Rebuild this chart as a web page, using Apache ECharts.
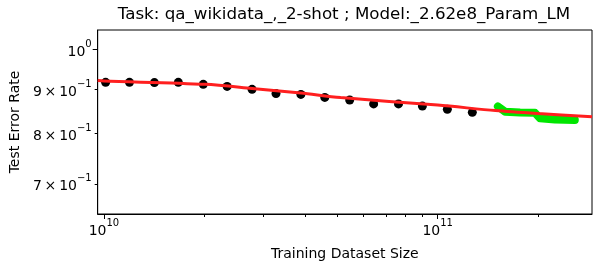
<!DOCTYPE html>
<html lang="en" style="height: 100%">
<head>
  <meta charset="utf-8">
</head>
<body style="height: 100%; margin: 0; background: #fff">
<div id="container" style="width: 602px; height: 273px"></div>

<script type="text/javascript" src="https://cdn.jsdelivr.net/npm/echarts@6/dist/echarts.min.js"></script>
<script type="text/javascript">
  // observed points
  var trainSizes = [1.012e10, 1.193e10, 1.417e10, 1.671e10, 1.985e10, 2.340e10, 2.779e10, 3.278e10,
                    3.892e10, 4.590e10, 5.450e10, 6.430e10, 7.632e10, 9.000e10, 1.069e11, 1.270e11];
  var errorRates = [0.9158, 0.9158, 0.9153, 0.9158, 0.9110, 0.9060, 0.8990, 0.8890,
                    0.8870, 0.8800, 0.8740, 0.8650, 0.8650, 0.8600, 0.8530, 0.8460];
  // fitted curve
  var fitSizes = [9.58e9, 1.0e10, 2.01e10, 2.78e10, 3.89e10, 5.12e10, 1.0e11, 1.49e11, 2.0e11, 2.9e11];
  var fitRates = [0.9201, 0.9189, 0.9112, 0.9013, 0.8902, 0.8796, 0.8623, 0.8498, 0.8431, 0.8360];
  // extrapolated segment
  var extraSizes = [1.515e11, 1.593e11, 1.766e11, 1.957e11, 2.026e11, 2.245e11, 2.576e11];
  var extraRates = [0.8594, 0.8472, 0.8456, 0.8448, 0.8325, 0.8300, 0.8291];

  var xTicks = [1e10, 1e11];
  var xTickText = ['10^10', '10^11'];
  var xMinor = [2e10, 3e10, 4e10, 5e10, 6e10, 7e10, 8e10, 9e10, 2e11];
  var yTicks = [0.7, 0.8, 0.9, 1.0];
  var yTickText = ['7\u2009×\u200910^−1', '8\u2009×\u200910^−1', '9\u2009×\u200910^−1', '10^0'];
  var yMajor = [1.0];

  var lg = Math.log10;
  function pairs(xs, ys) {
    return xs.map(function (x, i) { return [lg(x), lg(ys[i])]; });
  }
  function supLabel(list, ticks) {
    return function (v) {
      for (var i = 0; i < ticks.length; i++) {
        if (Math.abs(lg(ticks[i]) - v) < 1e-6) {
          var p = list[i].split('^');
          return '{b|' + p[0] + '}{s|' + p[1] + '}';
        }
      }
      return '';
    };
  }
  var rich = {
    b: { fontSize: 14, fontFamily: 'DejaVu Sans', color: '#000', verticalAlign: 'bottom', lineHeight: 20 },
    s: { fontSize: 10, fontFamily: 'DejaVu Sans', color: '#000', verticalAlign: 'top', lineHeight: 20 }
  };

  var xMin = lg(9.58e9), xMax = lg(2.9e11);
  var yMin = lg(0.6463), yMax = lg(1.052);

  var dom = document.getElementById('container');
  var myChart = echarts.init(dom, null, { renderer: 'canvas' });

  var option = {
    animation: false,
    title: {
      text: 'Task: qa_wikidata_,_2-shot ; Model:_2.62e8_Param_LM',
      left: 344,
      top: 6,
      padding: 0,
      textAlign: 'center',
      textStyle: { fontFamily: 'DejaVu Sans', fontSize: 16.7, fontWeight: 'normal', color: '#000' }
    },
    grid: {
      left: 96, right: 10, top: 30, bottom: 59,
      show: true, borderColor: '#000', borderWidth: 1, backgroundColor: 'transparent'
    },
    xAxis: [{
      type: 'value', min: xMin, max: xMax,
      name: 'Training Dataset Size', nameLocation: 'middle', nameGap: 33,
      nameTextStyle: { fontFamily: 'DejaVu Sans', fontSize: 14, color: '#000' },
      axisLine: { show: true, onZero: false, lineStyle: { color: '#000' } },
      splitLine: { show: false },
      axisTick: { show: true, customValues: xTicks.map(lg), length: 5, lineStyle: { color: '#000' } },
      axisLabel: { customValues: xTicks.map(lg), formatter: supLabel(xTickText, xTicks), rich: rich, margin: 4 }
    }, {
      type: 'value', min: xMin, max: xMax, position: 'bottom',
      axisLine: { show: false, onZero: false }, splitLine: { show: false },
      axisTick: { show: true, customValues: xMinor.map(lg), length: 3, lineStyle: { color: '#000' } },
      axisLabel: { show: false }
    }],
    yAxis: [{
      type: 'value', min: yMin, max: yMax,
      name: 'Test Error Rate', nameLocation: 'middle', nameGap: 73,
      nameTextStyle: { fontFamily: 'DejaVu Sans', fontSize: 14, color: '#000' },
      axisLine: { show: true, onZero: false, lineStyle: { color: '#000' } },
      splitLine: { show: false },
      axisTick: { show: true, customValues: yMajor.map(lg), length: 5, lineStyle: { color: '#000' } },
      axisLabel: { customValues: yTicks.map(lg), formatter: supLabel(yTickText, yTicks), rich: rich, margin: 6 }
    }, {
      type: 'value', min: yMin, max: yMax, position: 'left',
      axisLine: { show: false, onZero: false }, splitLine: { show: false },
      axisTick: { show: true, customValues: [0.7, 0.8, 0.9].map(lg), length: 3, lineStyle: { color: '#000' } },
      axisLabel: { show: false }
    }],
    series: [{
      type: 'scatter',
      data: pairs(trainSizes, errorRates),
      symbolSize: 9,
      itemStyle: { color: '#000', opacity: 1 },
      z: 2
    }, {
      type: 'line',
      data: pairs(extraSizes, extraRates),
      showSymbol: false,
      lineStyle: { color: '#00e600', width: 8, cap: 'round', join: 'round' },
      z: 3
    }, {
      type: 'line',
      data: pairs(fitSizes, fitRates),
      showSymbol: false,
      smooth: 0.3,
      lineStyle: { color: '#ff1f1f', width: 3 },
      z: 4
    }]
  };

  myChart.setOption(option);
  window.addEventListener('resize', myChart.resize);
</script>
</body>
</html>
